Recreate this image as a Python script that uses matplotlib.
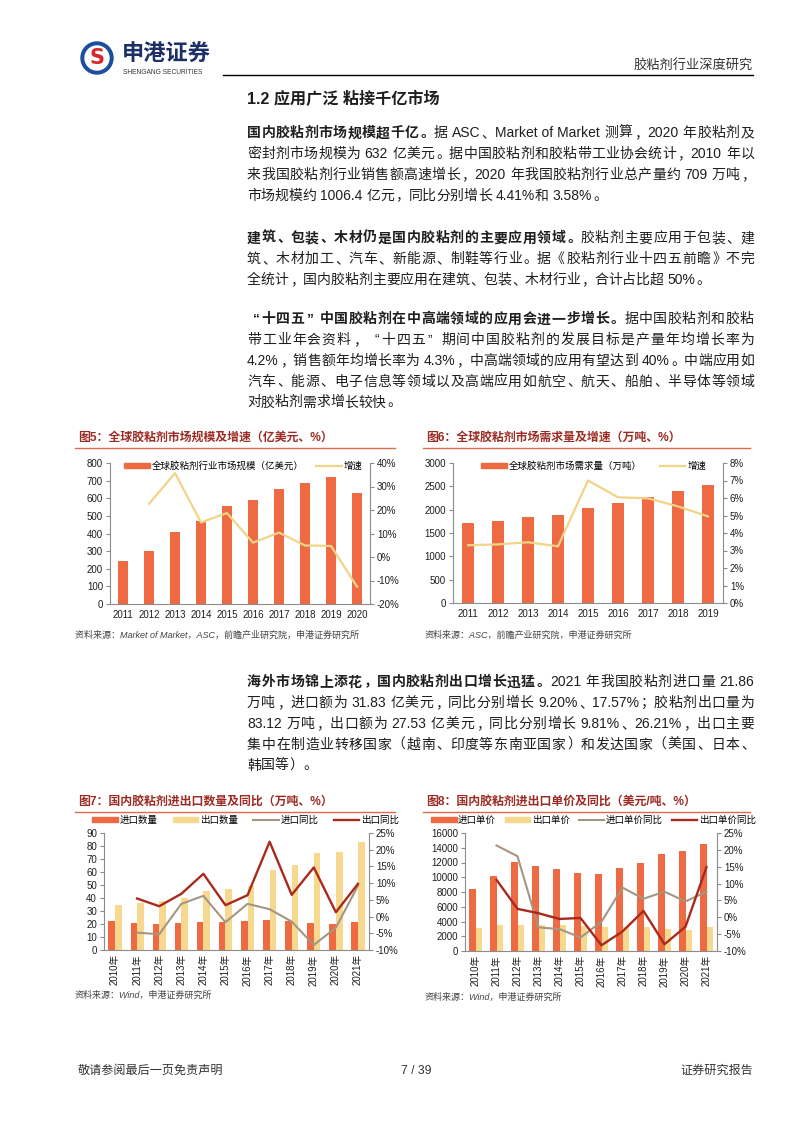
import re

import matplotlib
matplotlib.use("Agg")
import matplotlib.pyplot as plt
import numpy as np
from matplotlib.lines import Line2D
from matplotlib.patches import Circle, Patch
from matplotlib.ticker import FuncFormatter, MultipleLocator

plt.rcParams['font.family'] = ['Liberation Sans', 'Noto Sans CJK SC']

W, H = 802, 1133

# 图5 数据
years5 = ['2011', '2012', '2013', '2014', '2015', '2016', '2017', '2018', '2019', '2020']
market_size = [245, 300, 410, 470, 557, 592, 655, 688, 720, 632]
market_growth = [np.nan, 22.6, 35.7, 14.7, 18.7, 6.1, 10.4, 4.9, 4.7, -12.6]

# 图6 数据
years6 = ['2011', '2012', '2013', '2014', '2015', '2016', '2017', '2018', '2019']
demand = [1705, 1765, 1835, 1895, 2030, 2145, 2275, 2405, 2525]
demand_growth = [3.3, 3.35, 3.47, 3.24, 7.0, 6.04, 5.98, 5.52, 4.95]

# 图7 数据
years7 = ['2010年', '2011年', '2012年', '2013年', '2014年', '2015年',
          '2016年', '2017年', '2018年', '2019年', '2020年', '2021年']
import_qty = [22.1, 21.1, 19.8, 20.6, 21.9, 21.3, 22.4, 22.9, 22.6, 20.6, 19.8, 21.9]
export_qty = [34.7, 36.5, 37.8, 39.9, 45.3, 46.8, 49.4, 61.2, 65.1, 74.6, 75.6, 83.1]
import_yoy = [np.nan, -4.8, -5.3, 3.8, 6.2, -1.7, 3.8, 2.2, -1.5, -8.5, -3.3, 9.2]
export_yoy = [np.nan, 5.4, 3.1, 6.8, 12.8, 3.4, 6.4, 22.4, 6.5, 14.7, 1.3, 9.8]

# 图8 数据
import_price = [8430, 10200, 12010, 11560, 11150, 10520, 10380, 11290, 11920, 13100, 13510, 14550]
export_price = [3170, 3490, 3580, 3580, 3540, 3450, 3300, 3220, 3220, 2990, 2810, 3310]
import_price_yoy = [np.nan, 21.3, 18.1, -3.0, -3.5, -6.0, -1.3, 8.8, 5.5, 7.6, 4.7, 7.6]
export_price_yoy = [np.nan, 11.1, 2.5, 1.2, -0.5, -0.2, -8.3, -4.2, 1.9, -8.0, -2.8, 14.9]

ORANGE = '#EE6A43'
YELLOW = '#F6D98F'
YELLOW_LINE = '#F2D487'
GRAY_LINE = '#A59682'
DARK_RED = '#A92A1D'
TITLE_RED = '#9C2B23'
RULE_RED = '#E06A4A'
SPINE = '#8C8C8C'
TEXT = '#1E1E1E'


def fx(x):
  return x / W


def fy(y):
  return 1 - y / H


def px_rect(left, top, right, bottom):
  return [fx(left), fy(bottom), (right - left) / W, (bottom - top) / H]


fig = plt.figure(figsize=(W / 100, H / 100), dpi=100)
page = fig.add_axes([0, 0, 1, 1])
page.set_xlim(0, W)
page.set_ylim(H, 0)
page.axis('off')
renderer = fig.canvas.get_renderer()

TOKEN_RE = re.compile(r'[\x21-\x7e](?:[\x20-\x7e]*[\x21-\x7e])?|\s+|[^\x00-\x7f]')
LEFT_PUNCT = '，。、；：”’）》！？'
RIGHT_PUNCT = '“‘（《'


def justified_line(x, y, parts, size=10, width=None):
  """两端对齐地绘制一行正文, parts 为 (文字, 是否加粗) 列表."""
  em = size * 100 / 72
  items = []  # (文字, 占位宽度, 前置空白, 字形偏移)
  extra = 0
  for s, bold in parts:
    for tok in TOKEN_RE.findall(s):
      if tok.isspace():
        extra += 0.28 * em * len(tok)
        continue
      t = page.text(0, y + 0.38 * em, tok, fontsize=size,
                    fontweight='bold' if bold else 'normal',
                    va='baseline', ha='left', color=TEXT)
      ink = t.get_window_extent(renderer).width
      if ord(tok[0]) < 128:
        w, off = ink, 0
      else:
        w = em
        if tok in LEFT_PUNCT:
          off = 0.08 * em
        elif tok in RIGHT_PUNCT:
          off = em - 0.08 * em - ink
        else:
          off = (em - ink) / 2
      items.append((t, w, extra, off))
      extra = 0
  natural = sum(w + e for _, w, e, _ in items)
  gap = 0
  if width is not None and len(items) > 1:
    gap = (width - natural) / (len(items) - 1)
  pos = x
  for t, w, e, off in items:
    pos += e
    t.set_x(pos + off)
    pos += w + gap


# 页眉
page.add_patch(Circle((97, 58), 16, color='#1D4E9E'))
page.add_patch(Circle((97, 58), 12, color='white'))
page.text(97, 58.5, 'S', color='#D7262A', fontsize=15, fontweight='bold',
          ha='center', va='center', family='DejaVu Sans')
page.text(122, 55, '申港证券', fontsize=16, fontweight='bold', color='#1C2F66',
          ha='left', va='center')
page.text(123, 72, 'SHENGANG SECURITIES', fontsize=4.8, color='#333333',
          ha='left', va='center')
page.plot([223, 753], [75, 75], color='black', lw=1)
page.text(753, 66, '胶粘剂行业深度研究', fontsize=9.5, color='#333333',
          ha='right', va='center')

page.text(247, 99, '1.2 应用广泛 粘接千亿市场', fontsize=11.6, fontweight='bold',
          color=TEXT, ha='left', va='center')

# 正文
paragraphs = [
  (132, [
    [('国内胶粘剂市场规模超千亿。', True), ('据 ASC、Market of Market 测算，2020 年胶粘剂及', False)],
    [('密封剂市场规模为 632 亿美元。据中国胶粘剂和胶粘带工业协会统计，2010 年以', False)],
    [('来我国胶粘剂行业销售额高速增长，2020 年我国胶粘剂行业总产量约 709 万吨，', False)],
    [('市场规模约 1006.4 亿元，同比分别增长 4.41%和 3.58%。', False)],
  ]),
  (237, [
    [('建筑、包装、木材仍是国内胶粘剂的主要应用领域。', True), ('胶粘剂主要应用于包装、建', False)],
    [('筑、木材加工、汽车、新能源、制鞋等行业。据《胶粘剂行业十四五前瞻》不完', False)],
    [('全统计，国内胶粘剂主要应用在建筑、包装、木材行业，合计占比超 50%。', False)],
  ]),
  (318, [
    [('“十四五”中国胶粘剂在中高端领域的应用会进一步增长。', True), ('据中国胶粘剂和胶粘', False)],
    [('带工业年会资料，“十四五”期间中国胶粘剂的发展目标是产量年均增长率为', False)],
    [('4.2%，销售额年均增长率为 4.3%，中高端领域的应用有望达到 40%。中端应用如', False)],
    [('汽车、能源、电子信息等领域以及高端应用如航空、航天、船舶、半导体等领域', False)],
    [('对胶粘剂需求增长较快。', False)],
  ]),
  (681, [
    [('海外市场锦上添花，国内胶粘剂出口增长迅猛。', True), ('2021 年我国胶粘剂进口量 21.86', False)],
    [('万吨，进口额为 31.83 亿美元，同比分别增长 9.20%、17.57%；胶粘剂出口量为', False)],
    [('83.12 万吨，出口额为 27.53 亿美元，同比分别增长 9.81%、26.21%，出口主要', False)],
    [('集中在制造业转移国家（越南、印度等东南亚国家）和发达国家（美国、日本、', False)],
    [('韩国等）。', False)],
  ]),
]
for y0, lines in paragraphs:
  for i, parts in enumerate(lines):
    last = i == len(lines) - 1
    justified_line(247, y0 + i * 20.8, parts, width=None if last else 507)


def chart_header(x0, x1, y, title):
  page.text(x0 + 3, y, title, fontsize=8.6, fontweight='bold', color=TITLE_RED,
            ha='left', va='center')
  page.plot([x0, x1], [y + 10, y + 10], color=RULE_RED, lw=1)


def chart_source(x, y, text):
  page.text(x, y, text, fontsize=6.5, style='italic', color='#444444',
            ha='left', va='center')


def style_axes(ax, ax2, left_step, right_step, ylim, y2lim, xsize=7):
  for side in ['top', 'right']:
    ax.spines[side].set_visible(False)
  for side in ['top', 'left', 'bottom']:
    ax2.spines[side].set_visible(False)
  for sp in [ax.spines['left'], ax.spines['bottom'], ax2.spines['right']]:
    sp.set_color(SPINE)
    sp.set_linewidth(0.8)
  ax.set_ylim(*ylim)
  ax2.set_ylim(*y2lim)
  ax.yaxis.set_major_locator(MultipleLocator(left_step))
  ax2.yaxis.set_major_locator(MultipleLocator(right_step))
  ax2.yaxis.set_major_formatter(FuncFormatter(lambda v, _: f'{v:.0f}%'))
  for a in [ax, ax2]:
    a.tick_params(axis='y', direction='out', length=3, width=0.8, color=SPINE,
                  labelsize=7, labelcolor=TEXT, pad=2)
  ax.tick_params(axis='x', length=0, labelsize=xsize, labelcolor=TEXT, pad=4)
  ax.patch.set_alpha(0)


def add_legend(ax, handles, labels, x, y, spacing, textpad=0.25):
  ax.legend(handles, labels, loc='center left', bbox_to_anchor=(fx(x), fy(y)),
            bbox_transform=fig.transFigure, ncol=len(labels), frameon=False,
            fontsize=6.8, handlelength=2.7, handleheight=0.5,
            handletextpad=textpad, columnspacing=spacing, borderpad=0,
            borderaxespad=0)


# 图5
chart_header(75, 395, 438, '图5：全球胶粘剂市场规模及增速（亿美元、%）')
ax5 = fig.add_axes(px_rect(110, 463, 370, 604))
x5 = np.arange(len(years5))
ax5.bar(x5, market_size, width=0.42, color=ORANGE)
ax5b = ax5.twinx()
ax5b.plot(x5, market_growth, color=YELLOW_LINE, lw=1.6)
ax5.set_xlim(-0.5, len(years5) - 0.5)
ax5.set_xticks(x5, years5)
style_axes(ax5, ax5b, 100, 10, (0, 800), (-20, 40))
add_legend(ax5b, [Patch(color=ORANGE), Line2D([], [], color=YELLOW_LINE, lw=1.6)],
           ['全球胶粘剂行业市场规模（亿美元）', '增速'], 124, 466, 1.3)
chart_source(75, 635, '资料来源：Market of Market，ASC，前瞻产业研究院，申港证券研究所')

# 图6
chart_header(423, 750, 438, '图6：全球胶粘剂市场需求量及增速（万吨、%）')
ax6 = fig.add_axes(px_rect(453, 463, 723, 603))
x6 = np.arange(len(years6))
ax6.bar(x6, demand, width=0.42, color=ORANGE)
ax6b = ax6.twinx()
ax6b.plot(x6, demand_growth, color=YELLOW_LINE, lw=1.6)
ax6.set_xlim(-0.5, len(years6) - 0.5)
ax6.set_xticks(x6, years6)
style_axes(ax6, ax6b, 500, 1, (0, 3000), (0, 8))
add_legend(ax6b, [Patch(color=ORANGE), Line2D([], [], color=YELLOW_LINE, lw=1.6)],
           ['全球胶粘剂市场需求量（万吨）', '增速'], 481, 466, 1.9)
chart_source(425, 635, '资料来源：ASC，前瞻产业研究院，申港证券研究所')

# 图7
chart_header(75, 395, 802, '图7：国内胶粘剂进出口数量及同比（万吨、%）')
ax7 = fig.add_axes(px_rect(104, 833, 369, 950))
x7 = np.arange(len(years7))
ax7.bar(x7 - 0.15, import_qty, width=0.3, color=ORANGE)
ax7.bar(x7 + 0.15, export_qty, width=0.3, color=YELLOW)
ax7b = ax7.twinx()
ax7b.plot(x7, import_yoy, color=GRAY_LINE, lw=1.5)
ax7b.plot(x7, export_yoy, color=DARK_RED, lw=1.7)
ax7.set_xlim(-0.5, len(years7) - 0.5)
ax7.set_xticks(x7, years7, rotation=90)
style_axes(ax7, ax7b, 10, 5, (0, 90), (-10, 25))
ax7.tick_params(axis='x', pad=3)
add_legend(ax7b, [Patch(color=ORANGE), Patch(color=YELLOW),
                  Line2D([], [], color=GRAY_LINE, lw=1.5),
                  Line2D([], [], color=DARK_RED, lw=1.7)],
           ['进口数量', '出口数量', '进口同比', '出口同比'], 92, 820, 1.6, 0.2)
chart_source(75, 995, '资料来源：Wind，申港证券研究所')

# 图8
chart_header(423, 750, 802, '图8：国内胶粘剂进出口单价及同比（美元/吨、%）')
ax8 = fig.add_axes(px_rect(465, 833, 717, 951))
ax8.bar(x7 - 0.15, import_price, width=0.3, color=ORANGE)
ax8.bar(x7 + 0.15, export_price, width=0.3, color=YELLOW)
ax8b = ax8.twinx()
ax8b.plot(x7, import_price_yoy, color=GRAY_LINE, lw=1.5)
ax8b.plot(x7, export_price_yoy, color=DARK_RED, lw=1.7)
ax8.set_xlim(-0.5, len(years7) - 0.5)
ax8.set_xticks(x7, years7, rotation=90)
style_axes(ax8, ax8b, 2000, 5, (0, 16000), (-10, 25))
ax8.tick_params(axis='x', pad=3)
add_legend(ax8b, [Patch(color=ORANGE), Patch(color=YELLOW),
                  Line2D([], [], color=GRAY_LINE, lw=1.5),
                  Line2D([], [], color=DARK_RED, lw=1.7)],
           ['进口单价', '出口单价', '进口单价同比', '出口单价同比'], 431, 820,
           0.95, 0.15)
chart_source(425, 997, '资料来源：Wind，申港证券研究所')

# 页脚
page.text(78, 1071, '敬请参阅最后一页免责声明', fontsize=8.7, color='#333333',
          ha='left', va='center')
page.text(416, 1071, '7 / 39', fontsize=8.7, color='#333333',
          ha='center', va='center')
page.text(753, 1071, '证券研究报告', fontsize=8.7, color='#333333',
          ha='right', va='center')

fig.savefig('out.png', dpi=100)
